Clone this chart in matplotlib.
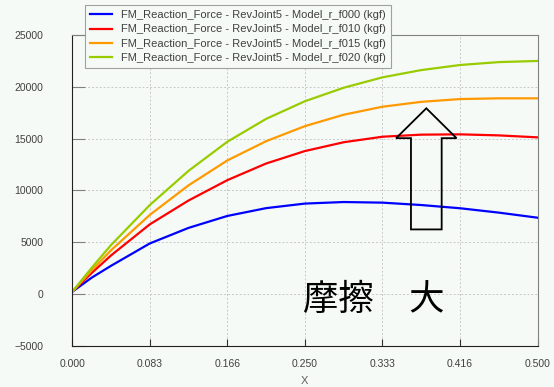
import matplotlib
matplotlib.use("Agg")
import matplotlib.pyplot as plt
from matplotlib.patches import Polygon

# x positions and reaction force values (kgf)
x = [0.0, 0.0208, 0.0417, 0.0833, 0.125, 0.1667, 0.2083, 0.25,
     0.2917, 0.3333, 0.375, 0.4167, 0.4583, 0.5]
f000 = [250, 1600, 2750, 4900, 6400, 7550, 8300, 8740,
        8890, 8830, 8600, 8290, 7870, 7380]
f010 = [250, 2050, 3750, 6740, 9040, 11000, 12600, 13800,
        14650, 15180, 15380, 15410, 15310, 15120]
f015 = [250, 2300, 4250, 7650, 10500, 12900, 14750, 16200,
        17300, 18070, 18540, 18810, 18880, 18880]
f020 = [250, 2550, 4750, 8600, 11900, 14700, 16900, 18600,
        19900, 20900, 21600, 22090, 22370, 22480]

series = [
    ("FM_Reaction_Force - RevJoint5 - Model_r_f000 (kgf)", f000, "#0000ff"),
    ("FM_Reaction_Force - RevJoint5 - Model_r_f010 (kgf)", f010, "#ff0000"),
    ("FM_Reaction_Force - RevJoint5 - Model_r_f015 (kgf)", f015, "#ff9900"),
    ("FM_Reaction_Force - RevJoint5 - Model_r_f020 (kgf)", f020, "#99cc00"),
]

xticks = [0.0, 1 / 12, 2 / 12, 3 / 12, 4 / 12, 5 / 12, 0.5]
xtick_labels = ["0.000", "0.083", "0.166", "0.250", "0.333", "0.416", "0.500"]
yticks = [-5000, 0, 5000, 10000, 15000, 20000, 25000]

bg = "#f5faf7"
plt.rcParams["font.family"] = ["Liberation Sans", "DejaVu Sans"]

fig = plt.figure(figsize=(5.54, 3.87), dpi=100, facecolor=bg)
ax = fig.add_axes([72.3 / 554, 1 - 346.2 / 387, 465.2 / 554, 311.4 / 387])
ax.set_facecolor(bg)

for label, vals, color in series:
    ax.plot(x, vals, color=color, lw=1.6, label=label)

ax.set_xlim(0, 0.5)
ax.set_ylim(-5000, 25000)
ax.set_xticks(xticks)
ax.set_xticklabels(xtick_labels)
ax.set_yticks(yticks)
ax.tick_params(axis="y", direction="in", length=9, color="#808080", pad=21,
               labelsize=7.5, labelcolor="#404040")
ax.tick_params(axis="x", direction="in", length=5, color="#303030", pad=9,
               labelsize=7.5, labelcolor="#404040")
ax.grid(True, color="#c8c8c8", ls=(0, (2, 2)), lw=0.7)
ax.set_xlabel("X", fontsize=8, color="#606060", labelpad=5)

for side in ["left", "bottom"]:
    ax.spines[side].set_color("#202020")
for side in ["top", "right"]:
    ax.spines[side].set_color("#808080")

leg = ax.legend(loc="upper left", bbox_to_anchor=(85 / 554, 1 - 5 / 387),
                bbox_transform=fig.transFigure, fontsize=8, frameon=True,
                fancybox=False, handlelength=2.0, handletextpad=0.8,
                labelspacing=0.4, borderpad=0.45, borderaxespad=0)
leg.get_frame().set_edgecolor("#a0a0a0")
leg.get_frame().set_facecolor(bg)
leg.get_frame().set_alpha(1)
leg.get_frame().set_linewidth(0.8)
leg.set_zorder(10)
for t in leg.get_texts():
    t.set_color("#404040")

# hollow up arrow
arrow = Polygon([(0.761, 0.764), (0.826, 0.668), (0.794, 0.668), (0.794, 0.375),
                 (0.728, 0.375), (0.728, 0.668), (0.696, 0.668)],
                closed=True, transform=ax.transAxes, facecolor="none",
                edgecolor="black", lw=1.3, zorder=5)
ax.add_patch(arrow)

ax.text(374 / 554, 1 - 300 / 387, "摩擦\u3000大", transform=fig.transFigure,
        ha="center", va="center", fontsize=25.5,
        family=["Noto Sans CJK JP", "DejaVu Sans"], color="black")

fig.savefig("out.png", dpi=100, facecolor=bg)
